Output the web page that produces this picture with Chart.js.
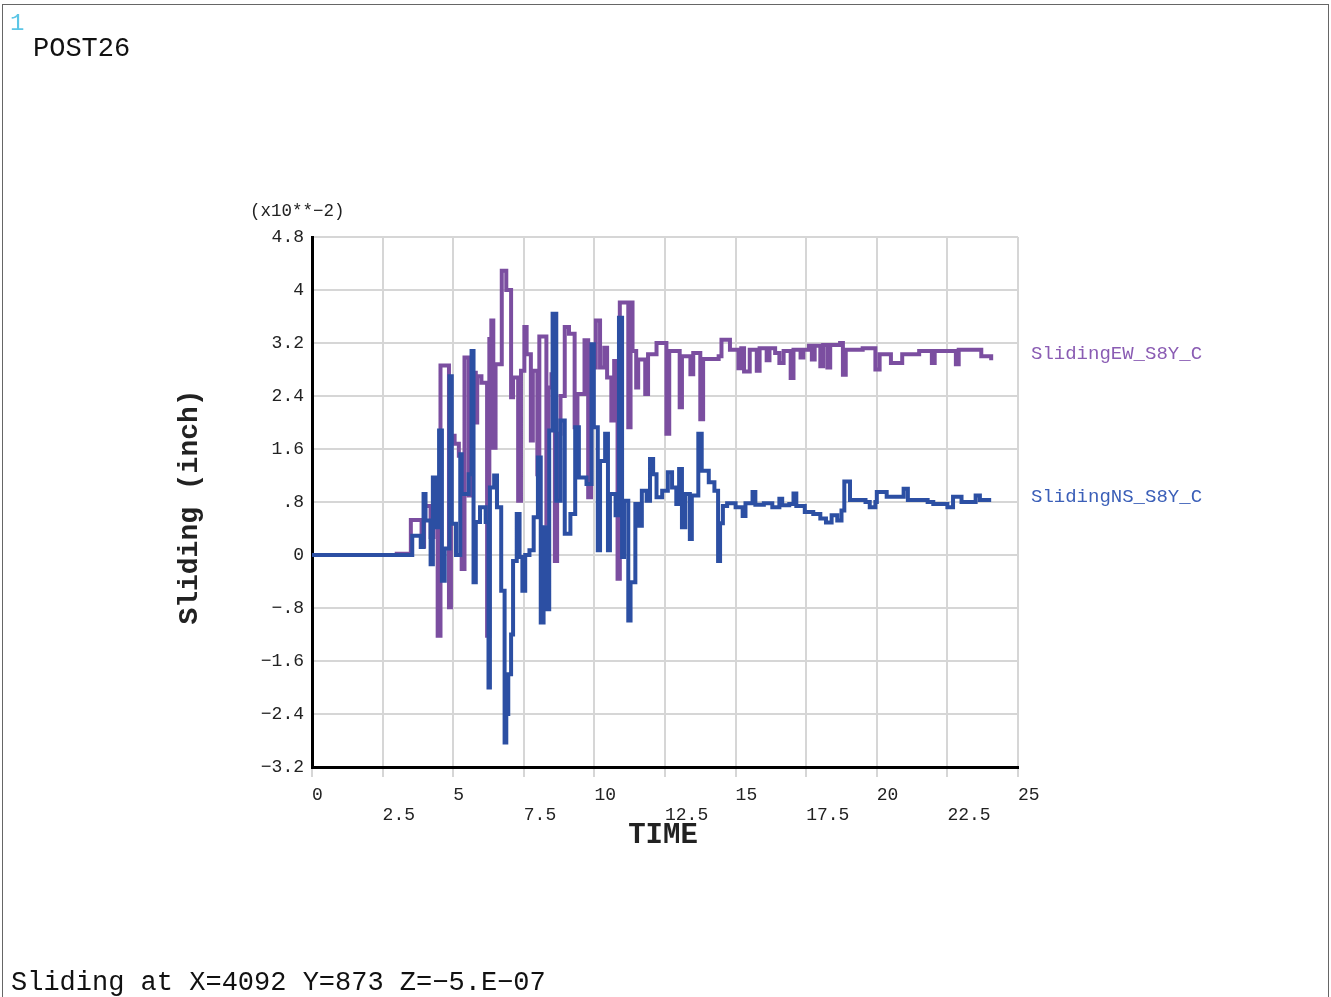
<!DOCTYPE html>
<html>
<head>
<meta charset="utf-8">
<title>POST26 Sliding</title>
<script src="https://cdn.jsdelivr.net/npm/chart.js@4.4.0/dist/chart.umd.min.js"></script>
<style>
  html, body { margin: 0; padding: 0; background: #fff; }
  #wrap { width: 1331px; height: 997px; }
</style>
</head>
<body>
<div id="wrap"><canvas id="chart" width="1331" height="997"></canvas></div>
<script>
// Sliding EW (purple) - time and value (x10**-2 inch)
const timeEW = [0, 3.0, 3.5, 3.88, 3.97, 4.2, 4.3, 4.45, 4.55, 4.85, 4.92, 5.05, 5.2, 5.3, 5.4,
  5.55, 5.65, 5.8, 5.85, 6.0, 6.2, 6.28, 6.35, 6.42, 6.5, 6.72, 6.88, 7.05, 7.12, 7.3,
  7.4, 7.52, 7.6, 7.75, 7.82, 7.98, 8.05, 8.3, 8.38, 8.48, 8.6, 8.68, 8.8, 8.95, 9.1,
  9.3, 9.4, 9.65, 9.78, 9.88, 10.05, 10.2, 10.35, 10.45, 10.6, 10.7, 10.82, 10.9, 11.2, 11.28,
  11.35, 11.48, 11.55, 11.8, 11.9, 12.2, 12.55, 12.65, 13.02, 13.1, 13.4, 13.5, 13.75, 13.85, 14.4,
  14.5, 14.8, 15.1, 15.2, 15.3, 15.5, 15.75, 15.85, 16.1, 16.2, 16.4, 16.55, 16.7, 16.95, 17.05,
  17.3, 17.4, 17.6, 17.7, 17.8, 18.0, 18.1, 18.25, 18.35, 18.7, 18.8, 18.9, 19.5, 19.95, 20.1,
  20.5, 20.9, 21.5, 21.95, 22.05, 22.8, 22.9, 23.7, 24.05];
const valEW = [0, 0.02, 0.53, 0.13, 0.74, 0.27, 0.6, -1.22, 2.86, -0.79, 1.8, 1.68, 1.5, -0.21, 2.98,
  0.9, 2.75, 2.0, 2.7, 2.6, -1.22, 3.26, 3.54, 1.62, 2.88, 4.29, 4.0, 2.38, 2.68, 0.82,
  2.78, 3.44, 3.03, 1.73, 2.78, 1.22, 3.3, 0.47, 2.53, 2.73, -0.09, 1.83, 2.4, 3.44, 3.34,
  1.93, 2.43, 3.24, 0.87, 2.83, 3.54, 2.83, 3.13, 2.68, 2.03, 2.93, -0.36, 3.81, 1.93, 3.81,
  3.08, 2.53, 2.95, 2.43, 3.03, 3.2, 1.83, 3.08, 2.23, 3.0, 2.73, 3.05, 2.05, 2.96, 3.0,
  3.25, 3.1, 2.82, 3.12, 2.77, 3.1, 2.78, 3.12, 2.94, 3.12, 3.05, 2.9, 3.08, 2.67, 3.1,
  2.98, 3.1, 3.16, 2.95, 3.16, 2.85, 3.17, 2.83, 3.17, 3.2, 2.72, 3.1, 3.12, 2.8, 3.03,
  2.9, 3.03, 3.08, 2.9, 3.08, 2.88, 3.1, 3.0, 2.94];

// Sliding NS (blue)
const timeNS = [0, 3.5, 3.55, 3.85, 3.95, 4.02, 4.2, 4.28, 4.38, 4.5, 4.6, 4.7, 4.87, 4.95, 5.1,
  5.25, 5.3, 5.55, 5.65, 5.72, 5.8, 5.95, 6.15, 6.25, 6.3, 6.45, 6.55, 6.7, 6.82, 6.88,
  6.95, 7.05, 7.12, 7.25, 7.35, 7.45, 7.55, 7.7, 7.85, 8.0, 8.1, 8.2, 8.3, 8.4, 8.52,
  8.65, 8.8, 8.95, 9.15, 9.32, 9.45, 9.72, 9.9, 9.98, 10.12, 10.2, 10.38, 10.48, 10.55, 10.75,
  10.87, 10.98, 11.05, 11.2, 11.28, 11.45, 11.55, 11.68, 11.85, 11.97, 12.08, 12.2, 12.4, 12.6, 12.75,
  12.9, 13.0, 13.1, 13.22, 13.38, 13.45, 13.68, 13.8, 14.05, 14.25, 14.38, 14.45, 14.55, 14.7, 15.0,
  15.25, 15.35, 15.6, 15.7, 16.0, 16.3, 16.55, 16.65, 16.9, 17.05, 17.15, 17.45, 17.75, 18.0, 18.2,
  18.4, 18.6, 18.75, 18.85, 19.05, 19.6, 19.75, 19.95, 20.0, 20.35, 20.95, 21.1, 21.8, 22.0, 22.5,
  22.7, 23.0, 23.5, 23.65, 24.05];
const valNS = [0, 0, 0.29, 0.12, 0.92, 0.52, -0.14, 1.17, 0.42, 1.88, -0.39, 0.1, 2.7, 0.47, 0.0,
  1.52, 0.92, 1.22, 3.08, -0.41, 0.5, 0.72, 0.5, -2.0, 1.02, 1.2, 0.72, -0.54, -2.83, -2.4,
  -1.8, -1.2, -0.09, 0.62, -0.03, -0.54, 0.0, 0.07, 0.57, 1.47, -1.02, 0.42, -0.82, 1.88, 3.64,
  0.82, 2.03, 0.32, 0.62, 1.93, 1.17, 1.07, 3.18, 1.93, 0.07, 1.42, 1.83, 0.07, 0.92, 0.6,
  3.58, -0.03, 0.82, -0.99, -0.41, 0.77, 0.44, 0.97, 0.82, 1.45, 1.22, 0.87, 0.97, 1.25, 1.02,
  0.77, 1.3, 0.42, 0.92, 0.24, 0.9, 1.83, 1.27, 1.1, 0.97, -0.09, 0.48, 0.74, 0.78, 0.72,
  0.59, 0.78, 0.95, 0.76, 0.78, 0.72, 0.85, 0.75, 0.77, 0.93, 0.74, 0.65, 0.62, 0.55, 0.49,
  0.6, 0.52, 0.67, 1.11, 0.83, 0.8, 0.72, 0.8, 0.95, 0.88, 1.0, 0.83, 0.8, 0.77, 0.72,
  0.88, 0.8, 0.9, 0.83, 0.83];

// Axis ticks
const xTickValues = [0, 2.5, 5, 7.5, 10, 12.5, 15, 17.5, 20, 22.5, 25];
const xTickLabels = ['0', '2.5', '5', '7.5', '10', '12.5', '15', '17.5', '20', '22.5', '25'];
const yTickValues = [-3.2, -2.4, -1.6, -0.8, 0, 0.8, 1.6, 2.4, 3.2, 4, 4.8];
const yTickLabels = ['\u22123.2', '\u22122.4', '\u22121.6', '\u2212.8', '0', '.8', '1.6', '2.4', '3.2', '4', '4.8'];

const COLORS = {
    ew: '#7b4ea0',
    ns: '#2c4fa3',
    ewText: '#8a5cb3',
    nsText: '#3b5fb8',
    grid: '#d6d6d6'
};
const MONO = "'Liberation Mono', 'DejaVu Sans Mono', monospace";

function toPoints(xs, ys) {
    return xs.map((x, i) => ({ x: x, y: ys[i] }));
}

// Background, frame and the ANSYS-style annotations
const annotations = {
    id: 'annotations',
    beforeDraw(chart) {
        const ctx = chart.ctx;
        ctx.save();
        ctx.fillStyle = '#fff';
        ctx.fillRect(0, 0, chart.width, chart.height);
        ctx.restore();
    },
    afterDraw(chart) {
        const ctx = chart.ctx;
        ctx.save();
        ctx.strokeStyle = '#666';
        ctx.lineWidth = 1;
        ctx.strokeRect(2.5, 4.5, 1326, 1000);

        ctx.textBaseline = 'alphabetic';
        ctx.textAlign = 'left';
        ctx.fillStyle = '#5cc6e6';
        ctx.font = '24px ' + MONO;
        ctx.fillText('1', 10, 30);

        ctx.fillStyle = '#111';
        ctx.font = '27px ' + MONO;
        ctx.fillText('POST26', 33, 56);
        ctx.fillText('Sliding at X=4092 Y=873 Z=\u22125.E\u221207', 11, 990);

        ctx.font = '17.5px ' + MONO;
        ctx.fillStyle = '#222';
        ctx.fillText('(x10**\u22122)', 250, 216);

        ctx.font = 'bold 29px ' + MONO;
        ctx.textAlign = 'center';
        ctx.fillText('TIME', 663, 843);

        ctx.save();
        ctx.translate(197, 507);
        ctx.rotate(-Math.PI / 2);
        ctx.font = 'bold 28px ' + MONO;
        ctx.textAlign = 'center';
        ctx.fillText('Sliding (inch)', 0, 0);
        ctx.restore();

        ctx.textAlign = 'left';
        ctx.textBaseline = 'middle';
        ctx.font = '19px ' + MONO;
        ctx.fillStyle = COLORS.ewText;
        ctx.fillText('SlidingEW_S8Y_C', 1031, 354);
        ctx.fillStyle = COLORS.nsText;
        ctx.fillText('SlidingNS_S8Y_C', 1031, 497);
        ctx.restore();
    }
};

new Chart(document.getElementById('chart'), {
    type: 'line',
    data: {
        datasets: [{
            label: 'SlidingNS_S8Y_C',
            data: toPoints(timeNS, valNS),
            borderColor: COLORS.ns,
            borderWidth: 4,
            stepped: true,
            pointRadius: 0,
            fill: false
        }, {
            label: 'SlidingEW_S8Y_C',
            data: toPoints(timeEW, valEW),
            borderColor: COLORS.ew,
            borderWidth: 4,
            stepped: true,
            pointRadius: 0,
            fill: false
        }]
    },
    options: {
        responsive: false,
        animation: false,
        devicePixelRatio: 1,
        layout: {
            padding: { left: 0, top: 237, right: 313, bottom: 0 }
        },
        scales: {
            x: {
                type: 'linear',
                min: 0,
                max: 25,
                afterFit(scale) { scale.height = 230; },
                afterBuildTicks(scale) {
                    scale.ticks = xTickValues.map(v => ({ value: v }));
                },
                grid: {
                    color: COLORS.grid,
                    lineWidth: 2,
                    tickLength: 10,
                    tickColor: COLORS.grid
                },
                border: { color: '#000', width: 3 },
                ticks: {
                    align: 'start',
                    padding: 8,
                    color: '#222',
                    font: { family: MONO, size: 18, lineHeight: 1.12 },
                    maxRotation: 0,
                    autoSkip: false,
                    callback: function(value, index) {
                        return index % 2 === 0 ? [xTickLabels[index]] : ['', xTickLabels[index]];
                    }
                }
            },
            y: {
                type: 'linear',
                min: -3.2,
                max: 4.8,
                afterFit(scale) { scale.width = 312; },
                afterBuildTicks(scale) {
                    scale.ticks = yTickValues.map(v => ({ value: v }));
                },
                grid: {
                    color: COLORS.grid,
                    lineWidth: 2,
                    drawTicks: false
                },
                border: { color: '#000', width: 3 },
                ticks: {
                    padding: 8,
                    color: '#222',
                    font: { family: MONO, size: 18 },
                    autoSkip: false,
                    callback: function(value, index) {
                        return yTickLabels[index];
                    }
                }
            }
        },
        plugins: {
            legend: { display: false },
            tooltip: { enabled: false },
            title: { display: false }
        }
    },
    plugins: [annotations]
});
</script>
</body>
</html>
